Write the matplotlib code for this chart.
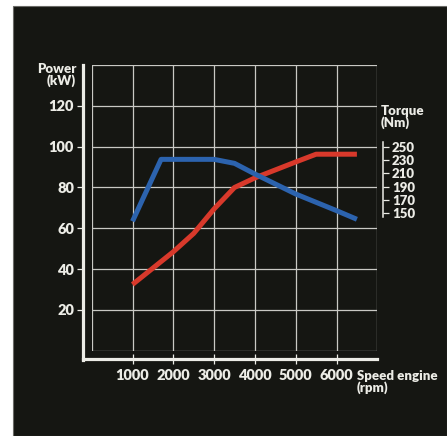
import matplotlib
matplotlib.use("Agg")
import matplotlib.pyplot as plt
from matplotlib.patches import Rectangle
from matplotlib.ticker import FixedLocator

# ---- data ----
rpm_power = [1000, 2000, 2500, 3000, 3500, 4000, 5000, 5500, 6500]
power_kw = [32.5, 48.5, 57.5, 69.5, 80.0, 84.7, 92.5, 96.3, 96.3]

rpm_torque = [1000, 1700, 3000, 3500, 4000, 5000, 6000, 6500]
torque_nm = [138, 231, 231, 225, 209, 179, 154, 141]

power_ticks = [20, 40, 60, 80, 100, 120]
rpm_ticks = [1000, 2000, 3000, 4000, 5000, 6000]
torque_ticks = [150, 170, 190, 210, 230, 250]

BG = "#151612"
FG = "#ecece6"
GRID = "#c9c9c4"
BLUE = "#2c63ae"
RED = "#d8392b"
FONT = "Lato"
WEIGHT = "heavy"

W, H = 447, 436
fig = plt.figure(figsize=(W / 100, H / 100), dpi=100, facecolor="white")
fig.add_artist(Rectangle((13 / W, 0), 1 - 13 / W, 1 - 6 / H, transform=fig.transFigure,
                         facecolor=BG, edgecolor="#6a6a66", linewidth=0.8, zorder=0))

x0, x1 = 91.7, 377.3
y0, y1 = 65.0, 350.8
ax = fig.add_axes([x0 / W, 1 - y1 / H, (x1 - x0) / W, (y1 - y0) / H])
ax.set_facecolor(BG)
ax.set_xlim(0, 7000)
ax.set_ylim(0, 140)

ax.set_xticks(rpm_ticks)
ax.set_yticks(power_ticks)
ax.set_xticklabels([str(v) for v in rpm_ticks])
ax.set_yticklabels([str(v) for v in power_ticks])

# grid lines: major (labelled) + minor (box edges)
ax.xaxis.set_minor_locator(FixedLocator([0, 7000]))
ax.yaxis.set_minor_locator(FixedLocator([0, 140]))
ax.grid(which="both", color=GRID, linewidth=0.9)
ax.tick_params(which="minor", length=0)
ax.set_axisbelow(True)

for s in ["top", "right"]:
    ax.spines[s].set_visible(False)

# thick offset axes
ax.spines["left"].set_position(("outward", 6.3))
ax.spines["bottom"].set_position(("outward", 6.0))
for s in ["left", "bottom"]:
    ax.spines[s].set_color(FG)
    ax.spines[s].set_linewidth(2.3)
    ax.spines[s].set_clip_on(False)
ax.spines["left"].set_bounds(-4.5, 140)
ax.spines["bottom"].set_bounds(-215, 7000)

ax.tick_params(axis="y", which="major", direction="out", length=4.5, width=0.9,
               color=FG, labelcolor=FG, pad=2, labelsize=10.5)
ax.tick_params(axis="x", which="major", direction="inout", length=6.5, width=0.9,
               color=FG, labelcolor=FG, pad=4, labelsize=10.5)
for lab in ax.get_xticklabels() + ax.get_yticklabels():
    lab.set_fontfamily(FONT)
    lab.set_fontweight(WEIGHT)

ax.plot(rpm_power, power_kw, color=RED, linewidth=3.6, solid_capstyle="butt",
        solid_joinstyle="round", zorder=4)

# torque axis
axt = ax.twinx()
axt.set_ylim(-56.5, 372.7)
for s in ["top", "left", "bottom"]:
    axt.spines[s].set_visible(False)
axt.spines["right"].set_position(("outward", 4.1))
axt.spines["right"].set_bounds(145, 257.5)
axt.spines["right"].set_color(FG)
axt.spines["right"].set_linewidth(1.1)
axt.set_yticks(torque_ticks)
axt.set_yticklabels([str(v) for v in torque_ticks])
axt.tick_params(axis="y", direction="out", length=4.5, width=0.9, color=FG,
                labelcolor=FG, pad=2, labelsize=9.5)
for lab in axt.get_yticklabels():
    lab.set_fontfamily(FONT)
    lab.set_fontweight(WEIGHT)
axt.plot(rpm_torque, torque_nm, color=BLUE, linewidth=3.6, solid_capstyle="butt",
         solid_joinstyle="round", zorder=3)


def ftext(px, py, s, ha, va, size):
    fig.text(px / W, 1 - py / H, s, ha=ha, va=va, fontsize=size, color=FG,
             fontfamily=FONT, fontweight=WEIGHT, linespacing=0.9,
             multialignment=ha)


ftext(76, 63, "Power\n(kW)", "right", "top", 9.5)
ftext(381, 105, "Torque\n(Nm)", "left", "top", 9.5)
ftext(357, 370, "Speed engine\n(rpm)", "left", "top", 9.5)

fig.savefig("out.png", dpi=100, facecolor="white")
